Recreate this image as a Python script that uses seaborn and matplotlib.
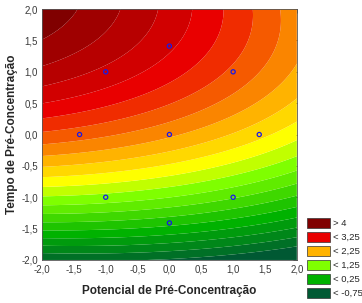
import numpy as np
import matplotlib
matplotlib.use("Agg")
import matplotlib.pyplot as plt
from matplotlib.colors import LinearSegmentedColormap
from matplotlib.patches import Patch
import seaborn as sns

# fitted response surface (quadratic model)
coef_b0 = 2.3
coef_x = -0.28
coef_y = 1.05
coef_xx = -0.04
coef_yy = -0.245
coef_xy = -0.09

# design points (central composite design)
pts_x = [0, -1, 1, -1.41, 0, 1.41, -1, 1, 0]
pts_y = [1.41, 1, 1, 0, 0, 0, -1, -1, -1.41]

levels = list(np.arange(-0.75, 4.01, 0.25))
legend_labels = ["> 4", "< 3,25", "< 2,25", "< 1,25", "< 0,25", "< -0,75"]
legend_values = [4.2, 3.125, 2.125, 1.125, 0.125, -0.9]

sns.set_style("white")
plt.rcParams["font.family"] = ["Liberation Sans", "DejaVu Sans"]

# colour anchors by value (Statistica-like green -> yellow -> red)
vmin, vmax = -0.9, 4.2
anchors = [
    (-0.9, (0.0, 0.35, 0.2)),
    (0.125, (0.0, 0.7, 0.0)),
    (1.125, (0.5, 1.0, 0.0)),
    (1.625, (1.0, 1.0, 0.0)),
    (2.125, (1.0, 0.7, 0.0)),
    (3.125, (0.92, 0.0, 0.0)),
    (4.2, (0.5, 0.0, 0.0)),
]
cmap = LinearSegmentedColormap.from_list(
    "stat", [((v - vmin) / (vmax - vmin), c) for v, c in anchors])

gx = np.linspace(-2, 2, 201)
gy = np.linspace(-2, 2, 201)
X, Y = np.meshgrid(gx, gy)
Z = (coef_b0 + coef_x * X + coef_y * Y + coef_xx * X ** 2
     + coef_yy * Y ** 2 + coef_xy * X * Y)

fig = plt.figure(figsize=(3.62, 3.03), dpi=100)
ax = fig.add_axes([0.116, 0.142, 0.704, 0.828])
all_levels = [-10] + levels + [10]
mids = [vmin] + [(a + b) / 2 for a, b in zip(levels[:-1], levels[1:])] + [vmax]
colors = [cmap((m - vmin) / (vmax - vmin)) for m in mids]
ax.contourf(X, Y, Z, levels=all_levels, colors=colors, antialiased=True)

sns.scatterplot(x=pts_x, y=pts_y, ax=ax, s=9, facecolor="none",
                edgecolor=(0.1, 0.1, 0.9), linewidth=0.9, marker="o", legend=False)

ax.set_xlim(-2, 2)
ax.set_ylim(-2, 2)
ticks = np.arange(-2, 2.01, 0.5)
ax.set_xticks(ticks)
ax.set_yticks(ticks)
fmt = [f"{t:.1f}".replace(".", ",") for t in ticks]
ax.set_xticklabels(fmt)
ax.set_yticklabels(fmt)
ax.tick_params(direction="in", length=3, width=0.6, top=True, right=True,
               labelsize=7, colors="#333333", labelcolor="#3a3a3a", pad=3)
for s in ax.spines.values():
    s.set_color("#555555")
    s.set_linewidth(0.6)

ax.set_xlabel("Potencial de Pré-Concentração", fontsize=8.5, fontweight="bold", labelpad=8)
ax.set_ylabel("Tempo de Pré-Concentração", fontsize=8.5, fontweight="bold", labelpad=2)

handles = [Patch(facecolor=cmap((v - vmin) / (vmax - vmin)), edgecolor="#333333",
                 linewidth=0.5) for v in legend_values]
fig.legend(handles, legend_labels, loc="lower left", bbox_to_anchor=(0.83, -0.005),
           frameon=False, fontsize=6.8, handlelength=2.4, handleheight=1.2,
           handletextpad=0.3, labelspacing=0.42, borderpad=0.2)

fig.savefig("out.png", dpi=100)
